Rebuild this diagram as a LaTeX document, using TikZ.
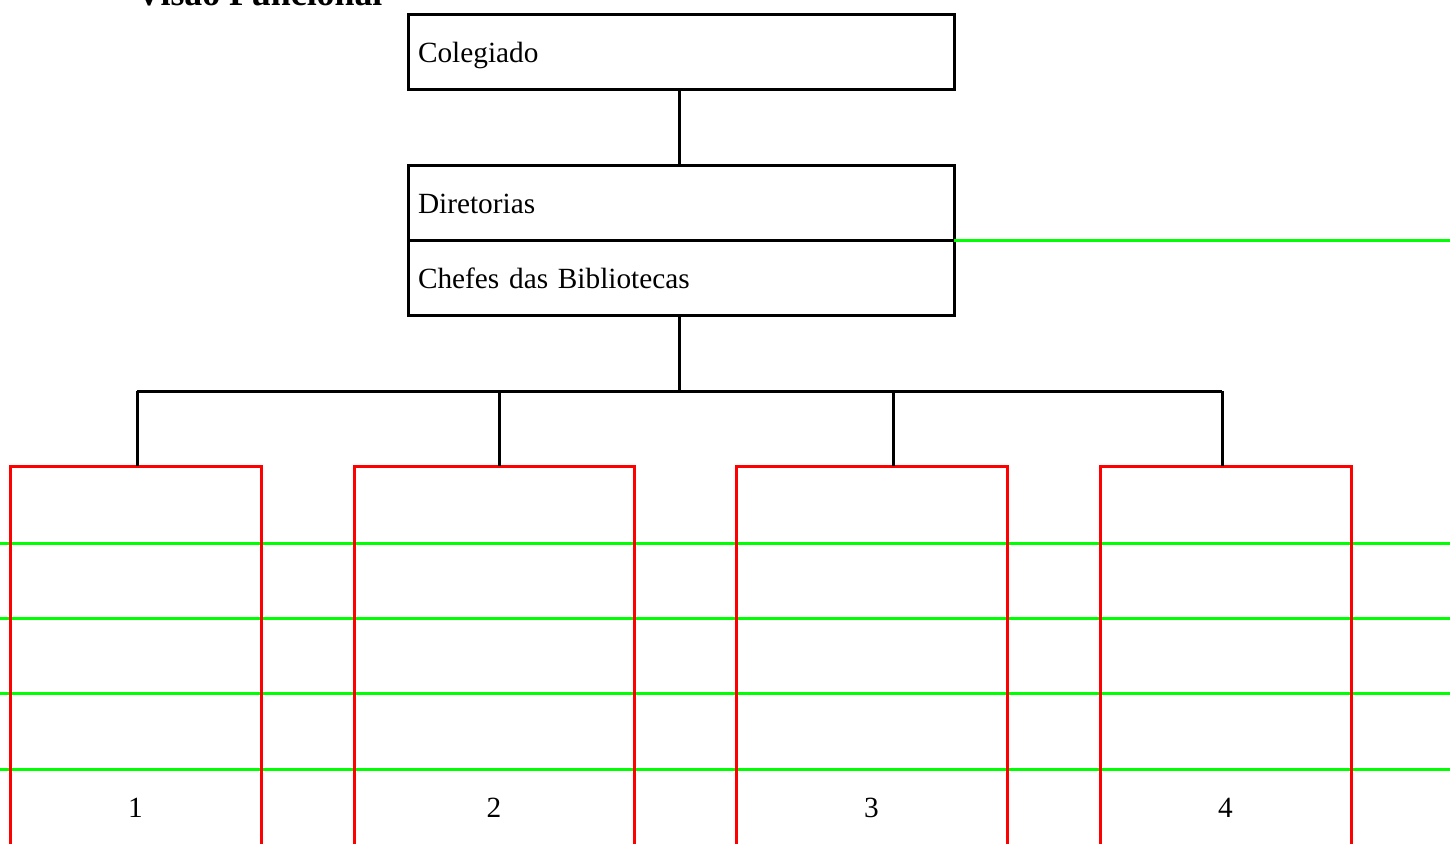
\documentclass[tikz,border=0pt]{standalone}
\usepackage{fontspec}
\setmainfont{Liberation Serif}
\begin{document}
\begin{tikzpicture}[x=0.5pt, y=-0.5pt,
        caixa/.style={draw, line width=1.5pt, outer sep=0pt, anchor=north west, minimum width=273pt, minimum height=37.5pt,
            text width=263pt, inner xsep=5pt, text height=13pt, text depth=2.5pt, align=left,
            font=\fontsize{14.65}{17}\selectfont},
        ramo/.style={draw=red, line width=1.5pt, outer sep=0pt, anchor=north west, minimum height=220pt},
        numero/.style={font=\fontsize{14.65}{17}\selectfont},
        liga/.style={line width=1.5pt},
        faixa/.style={draw=green, line width=1.5pt}]
    \path[use as bounding box, clip] (0,0) rectangle (1450,843);
    \node[font=\bfseries\fontsize{17.9}{20}\selectfont, anchor=base west] (titulo) at (129,5) {Visão Funcional};
    \node[caixa] (col) at (408,14) {Colegiado};
    \node[caixa] (dir) at (408,165) {Diretorias};
    \node[caixa] (chefe) at (408,240) {Chefes das Bibliotecas};
    \coordinate (bus) at (679,391);
    \draw[liga] (bus |- col.south) -- (bus |- dir.north);
    % faixas verdes
    \coordinate (d0) at (1450,240);
    \draw[faixa] (dir.south east) -- (dir.south east -| d0);
    \foreach \y [count=\i] in {543,618,693,769} {
        \coordinate (e\i) at (0,\y);
        \coordinate (f\i) at (1450,\y);
        \draw[faixa] (e\i) -- (f\i);
    }
    % ramos
    \node[ramo, minimum width=125.5pt] (ramo1) at (10,466) {};
    \node[ramo, minimum width=140pt] (ramo2) at (354,466) {};
    \node[ramo, minimum width=135.5pt] (ramo3) at (736,466) {};
    \node[ramo, minimum width=125.5pt] (ramo4) at (1100,466) {};
    \node[numero] (n1) at (135.5,808) {1};
    \node[numero] (n2) at (494,808) {2};
    \node[numero] (n3) at (871.5,808) {3};
    \node[numero] (n4) at (1225.5,808) {4};
    % ligacoes
    \coordinate (b1) at (137,391);
    \coordinate (b2) at (499,391);
    \coordinate (b3) at (893,391);
    \coordinate (b4) at (1222,391);
    \draw[liga] (bus |- chefe.south) -- (bus);
    \draw[liga] (b1) -- (b4);
    \foreach \i in {1,...,4}
        \draw[liga] (b\i) -- (b\i |- ramo\i.north);
\end{tikzpicture}
\end{document}
